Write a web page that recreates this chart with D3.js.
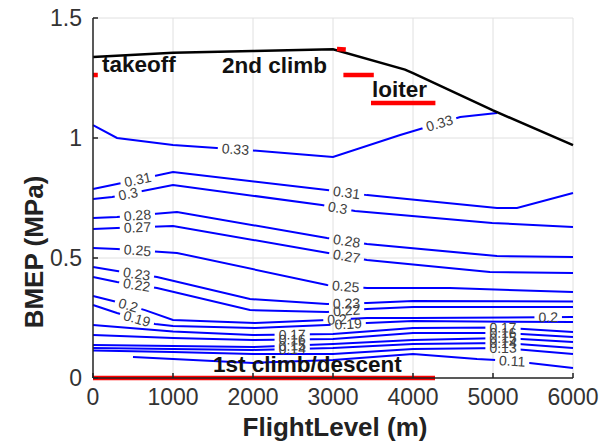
<!DOCTYPE html>
<html>
<head>
<meta charset="utf-8">
<script src="https://cdn.jsdelivr.net/npm/d3@7"></script>
<style>
  body { margin: 0; background: #fff; }
  text { font-family: "Liberation Sans", Arial, Helvetica, sans-serif; }
</style>
</head>
<body>
<svg id="chart" width="609" height="448"></svg>
<script>
// ---- axes ----
const xTicks = [0, 1000, 2000, 3000, 4000, 5000, 6000];
const yTicks = [0, 0.5, 1, 1.5];
const yTickLabels = ["0", "0.5", "1", "1.5"];

// ---- maximum BMEP envelope vs flight level ----
const envelopeFL   = [0, 1000, 2000, 3000, 3900, 4000, 5000, 6000];
const envelopeBMEP = [1.3375, 1.355, 1.362, 1.37, 1.285, 1.27, 1.115, 0.97];

// ---- efficiency iso-lines: [flight level (m), BMEP (MPa)] ----
const eff033 = [[0,1.054],[300,1.0],[1000,0.971],[2000,0.948],[3000,0.921],[3840,1.0125],[4590,1.0875],[5050,1.104]];
const eff031 = [[0,0.7875],[300,0.808],[1000,0.858],[2925,0.783],[3425,0.762],[5050,0.708],[5300,0.708],[6000,0.771]];
const eff030 = [[0,0.746],[240,0.754],[1000,0.804],[2860,0.721],[3275,0.696],[4990,0.646],[6000,0.629]];
const eff028 = [[0,0.667],[300,0.671],[1050,0.692],[2925,0.583],[3425,0.558],[5050,0.508],[6000,0.504]];
const eff027 = [[0,0.621],[300,0.625],[1000,0.633],[2940,0.521],[3425,0.492],[4960,0.442],[6000,0.4375]];
const eff025 = [[0,0.542],[300,0.5375],[1050,0.521],[2925,0.3875],[3425,0.375],[4460,0.375],[6000,0.358]];
const eff023 = [[0,0.4625],[300,0.446],[800,0.421],[1962,0.329],[2925,0.308],[3425,0.3125],[4000,0.321],[6000,0.319]];
const eff022 = [[0,0.421],[300,0.4],[800,0.375],[1962,0.283],[2925,0.275],[3425,0.2875],[4000,0.296],[6000,0.296]];
const eff020 = [[0,0.342],[300,0.317],[650,0.283],[1000,0.242],[2025,0.229],[2925,0.242],[3425,0.25],[4000,0.25],[6000,0.254]];
const eff019 = [[0,0.304],[300,0.271],[775,0.225],[1000,0.217],[2025,0.208],[2925,0.221],[3425,0.229],[4000,0.2375],[6000,0.233]];
const eff017 = [[0,0.221],[1000,0.194],[2000,0.179],[3000,0.183],[4000,0.208],[5125,0.21],[6000,0.192]];
const eff016 = [[0,0.179],[1000,0.167],[2000,0.158],[3000,0.163],[4000,0.187],[5125,0.188],[6000,0.171]];
const eff015 = [[0,0.1375],[1000,0.133],[2000,0.129],[3000,0.142],[4000,0.158],[5125,0.167],[6000,0.15]];
const eff014 = [[0,0.125],[1000,0.121],[2000,0.117],[3000,0.125],[4000,0.142],[5125,0.146],[6000,0.125]];
const eff013 = [[0,0.115],[1000,0.108],[2000,0.1],[3000,0.1],[4000,0.121],[5125,0.125],[6000,0.1]];
const eff011 = [[500,0.088],[2000,0.063],[3000,0.075],[4000,0.1],[4800,0.079],[5240,0.071],[6000,0.042]];

const contourLevels = [0.33, 0.31, 0.3, 0.28, 0.27, 0.25, 0.23, 0.22, 0.2, 0.19, 0.17, 0.16, 0.15, 0.14, 0.13, 0.11];
const contourLines  = [eff033, eff031, eff030, eff028, eff027, eff025, eff023, eff022, eff020, eff019, eff017, eff016, eff015, eff014, eff013, eff011];
// flight levels where each iso-line carries its value label
const contourLabelFL = [
  [1780, 4330], [560, 3170], [440, 3060], [555, 3170], [555, 3170], [555, 3160],
  [545, 3170], [545, 3170], [440, 3050, 5690], [550, 3190],
  [2490, 5125], [2490, 5125], [2490, 5125], [2490, 5125], [5125], [5240]
];

// ---- flight phases ----
const phaseNames = ["takeoff", "2nd climb", "loiter", "1st climb/descent"];
const phaseSegments = [
  [[0, 1.2625], [60, 1.2625]],
  [[3050, 1.371], [3160, 1.369]],
  [[3130, 1.2625], [3510, 1.2625]],
  [[3475, 1.146], [4280, 1.146]],
  [[0, 0], [4275, 0]]
];

const svg = d3.select("#chart");
const x = d3.scaleLinear().domain([0, 6000]).range([93, 573]);
const y = d3.scaleLinear().domain([0, 1.5]).range([378, 18]);
const line = d3.line().x(d => x(d[0])).y(d => y(d[1]));

// grid
const grid = svg.append("g").attr("stroke", "#e0e0e0").attr("stroke-width", 1);
xTicks.slice(1).forEach(t => grid.append("line")
  .attr("x1", x(t)).attr("x2", x(t)).attr("y1", y(0)).attr("y2", y(1.5)));
yTicks.slice(1).forEach(t => grid.append("line")
  .attr("x1", x(0)).attr("x2", x(6000)).attr("y1", y(t)).attr("y2", y(t)));

// position / slope along a polyline at a given flight level
function pointAt(pts, fl) {
  for (let i = 0; i < pts.length - 1; i++) {
    const a = pts[i], b = pts[i + 1];
    if (fl >= a[0] && fl <= b[0]) {
      const t = (fl - a[0]) / (b[0] - a[0]);
      const px = x(fl), py = y(a[1] + t * (b[1] - a[1]));
      const ang = Math.atan2(y(b[1]) - y(a[1]), x(b[0]) - x(a[0])) * 180 / Math.PI;
      return [px, py, ang];
    }
  }
  const last = pts[pts.length - 1];
  return [x(last[0]), y(last[1]), 0];
}

const defs = svg.append("defs");
const contourG = svg.append("g");
const labelG = svg.append("g");

contourLevels.forEach((lvl, i) => {
  const pts = contourLines[i];
  const maskId = "gap" + i;
  const mask = defs.append("mask").attr("id", maskId).attr("maskUnits", "userSpaceOnUse")
    .attr("x", 0).attr("y", 0).attr("width", 609).attr("height", 448);
  mask.append("rect").attr("width", 609).attr("height", 448).attr("fill", "#fff");

  const txt = d3.format("")(lvl);
  contourLabelFL[i].forEach(fl => {
    const [px, py, ang] = pointAt(pts, fl);
    const t = labelG.append("text")
      .attr("transform", `translate(${px},${py}) rotate(${ang})`)
      .attr("text-anchor", "middle").attr("dy", "0.35em")
      .attr("font-size", 14).attr("fill", "#404040")
      .text(txt);
    const w = t.node().getComputedTextLength() + 8;
    mask.append("rect")
      .attr("transform", `translate(${px},${py}) rotate(${ang})`)
      .attr("x", -w / 2).attr("y", -6).attr("width", w).attr("height", 12)
      .attr("fill", "#000");
  });

  contourG.append("path").attr("d", line(pts))
    .attr("fill", "none").attr("stroke", "#0000ff").attr("stroke-width", 2)
    .attr("mask", `url(#${maskId})`);
});

// envelope
svg.append("path")
  .attr("d", line(envelopeFL.map((f, i) => [f, envelopeBMEP[i]])))
  .attr("fill", "none").attr("stroke", "#000").attr("stroke-width", 2.5);

// phase markers
phaseSegments.forEach(seg => svg.append("path").attr("d", line(seg))
  .attr("fill", "none").attr("stroke", "#ff0000").attr("stroke-width", 4.5));

// axes
const axisG = svg.append("g").attr("stroke", "#222").attr("stroke-width", 1.5);
axisG.append("line").attr("x1", x(0)).attr("x2", x(0)).attr("y1", y(0)).attr("y2", y(1.5));
axisG.append("line").attr("x1", x(0)).attr("x2", x(6000)).attr("y1", y(0)).attr("y2", y(0));
yTicks.forEach(t => axisG.append("line").attr("x1", x(0)).attr("x2", x(0) + 5).attr("y1", y(t)).attr("y2", y(t)));
xTicks.forEach(t => axisG.append("line").attr("x1", x(t)).attr("x2", x(t)).attr("y1", y(0)).attr("y2", y(0) - 5));

// tick labels
svg.append("g").selectAll("text").data(xTicks).join("text")
  .attr("x", d => x(d)).attr("y", 405).attr("text-anchor", "middle")
  .attr("font-size", 23).attr("fill", "#333").text(d => d);
svg.append("g").selectAll("text").data(yTicks).join("text")
  .attr("x", 82).attr("y", d => y(d)).attr("dy", "0.35em").attr("text-anchor", "end")
  .attr("font-size", 23).attr("fill", "#333").text((d, i) => yTickLabels[i]);

// axis titles
svg.append("text").attr("x", 335).attr("y", 436).attr("text-anchor", "middle")
  .attr("font-size", 26).attr("font-weight", "bold").attr("fill", "#222")
  .text("FlightLevel (m)");
svg.append("text").attr("transform", "translate(43,252) rotate(-90)").attr("text-anchor", "middle")
  .attr("font-size", 26).attr("font-weight", "bold").attr("fill", "#222")
  .text("BMEP (MPa)");

// phase names
const phaseAnchors = [[112, 1.275], [1612, 1.271], [3487, 1.171], [1500, 0.025]];
phaseNames.forEach((n, i) => svg.append("text")
  .attr("x", x(phaseAnchors[i][0])).attr("y", y(phaseAnchors[i][1]))
  .attr("font-size", 22.5).attr("font-weight", "bold").attr("fill", "#111").text(n));
</script>
</body>
</html>
